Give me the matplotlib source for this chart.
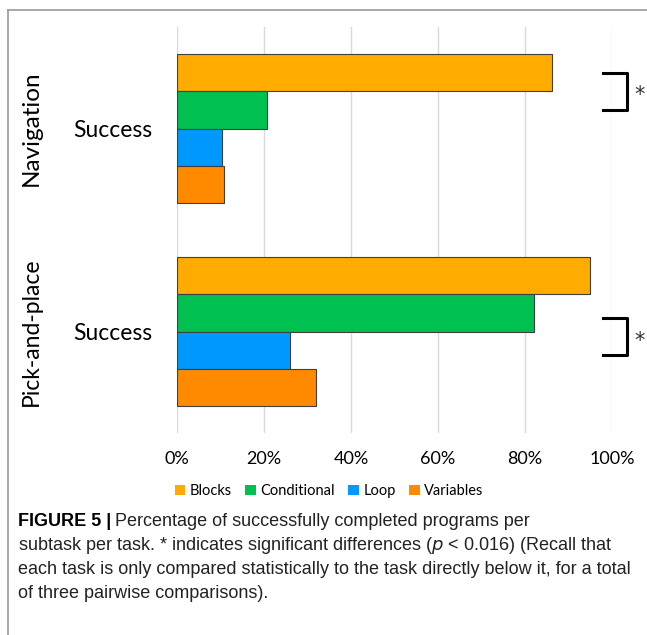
import numpy as np
import matplotlib
matplotlib.use('Agg')
import matplotlib.pyplot as plt
from matplotlib.lines import Line2D
from matplotlib.patches import Patch

# data
tasks = ['Navigation', 'Pick-and-place']
subtasks = ['Blocks', 'Conditional', 'Loop', 'Variables']
nav_vals = [86.3, 20.6, 10.4, 10.7]
pnp_vals = [95.0, 82.0, 26.0, 32.0]
colors = ['#FFAB00', '#00C050', '#0099FF', '#FF8A00']
xticks = [0, 20, 40, 60, 80, 100]
xlabels = ['0%', '20%', '40%', '60%', '80%', '100%']
# significant pairs (index of upper bar of each pair)
sig_nav = 0
sig_pnp = 1

font_chart = 'Lato'

fig = plt.figure(figsize=(6.47, 6.35), dpi=100)
ax = fig.add_axes([177/647, 1-433/635, 435/647, 406/635])

h = 0.183
offsets = np.array([-1.5, -0.5, 0.5, 1.5]) * h
vals = [nav_vals, pnp_vals]
for g in range(2):
    for i in range(4):
        ax.barh(g + offsets[i], vals[g][i], height=h, color=colors[i],
                edgecolor='#404040', linewidth=0.8, zorder=3)

ax.set_xlim(0, 100)
ax.set_ylim(1.5, -0.5)
ax.set_xticks(xticks)
ax.set_xticklabels(xlabels, fontsize=13, family=font_chart)
ax.set_yticks([0, 1])
ax.set_yticklabels(['Success', 'Success'], fontsize=16.5, family=font_chart)
ax.tick_params(axis='x', length=0, pad=13)
ax.tick_params(axis='y', length=0, pad=18)
ax.grid(axis='x', color='#d9d9d9', linewidth=1, zorder=0)
for s in ax.spines.values():
    s.set_visible(False)

# task labels
ax.text(-33.5, 0, tasks[0], rotation=90, ha='center', va='center',
        fontsize=17.5, family=font_chart)
ax.text(-33.5, 1, tasks[1], rotation=90, ha='center', va='center',
        fontsize=16.5, family=font_chart)

# significance brackets
for g, k in [(0, sig_nav), (1, sig_pnp)]:
    y1 = g + offsets[k]
    y2 = g + offsets[k + 1]
    if g == 1:
        y1 += 0.025
        y2 += 0.025
    ax.plot([98.0, 103.5, 103.5, 98.0], [y1, y1, y2, y2], color='black',
            linewidth=2.2, clip_on=False, zorder=4)
    ax.text(106.3, (y1 + y2) / 2 + 0.02, '*', fontsize=15, ha='center', va='center',
            family='DejaVu Sans', color='#333333')

# legend
handles = [Patch(facecolor=c, edgecolor='none') for c in colors]
fig.legend(handles, subtasks, loc='center', bbox_to_anchor=(329/647, 1-491/635),
           ncol=4, frameon=False, handlelength=0.75, handleheight=0.75,
           handletextpad=0.3, columnspacing=0.9, prop={'family': font_chart, 'size': 10.5})

# frame
fig.add_artist(Line2D([8/647, 8/647], [0, 1-10/635], color='#999999', linewidth=1.2))
fig.add_artist(Line2D([8/647, 1], [1-10/635, 1-10/635], color='#999999', linewidth=1.2))

# caption
cap_font = ['Liberation Sans Narrow', 'Liberation Sans', 'DejaVu Sans']
lines = [
    'Percentage of successfully completed programs per',
    'subtask per task. * indicates significant differences ($\\it{p}$ < 0.016) (Recall that',
    'each task is only compared statistically to the task directly below it, for a total',
    'of three pairwise comparisons).',
]
x0 = 18/647
ys = [521, 545, 569, 593]
t = fig.text(x0, 1-ys[0]/635, 'FIGURE 5 |', fontsize=13, fontweight='bold',
             family=cap_font, va='center', ha='left')
fig.canvas.draw()
bb = t.get_window_extent()
fig.text(bb.x1/647 + 4/647, 1-ys[0]/635, lines[0], fontsize=13, family=cap_font,
         va='center', ha='left', color='#222222')
for y, ln in zip(ys[1:], lines[1:]):
    fig.text(x0, 1-y/635, ln, fontsize=13, family=cap_font, va='center', ha='left',
             color='#222222')

plt.savefig('out.png', dpi=100)
